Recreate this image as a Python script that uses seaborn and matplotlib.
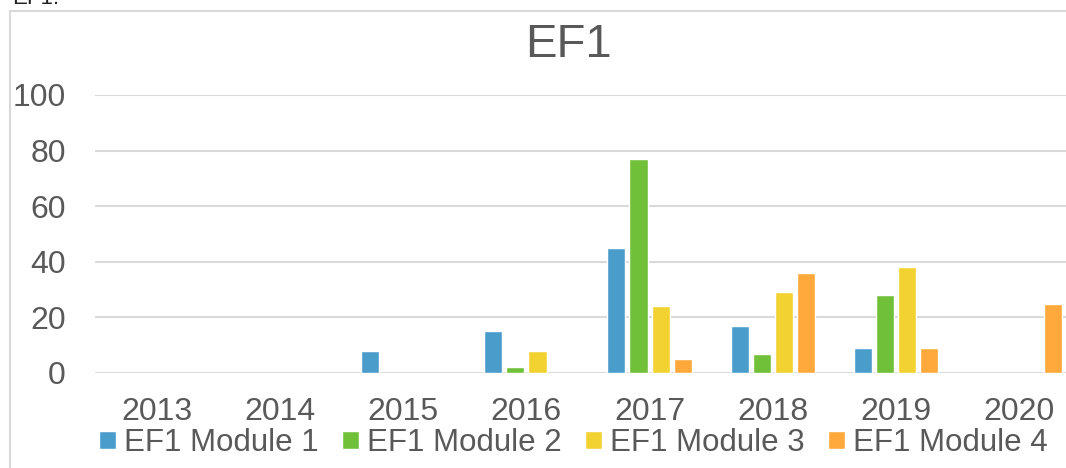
import numpy as np
import pandas as pd
import matplotlib
matplotlib.use("Agg")
import matplotlib.pyplot as plt
import seaborn as sns
from matplotlib.patches import Rectangle

# chart data (NaN = no bar)
years = ["2013", "2014", "2015", "2016", "2017", "2018", "2019", "2020"]
module_1 = [np.nan, np.nan, 8, 15, 45, 17, 9, np.nan]
module_2 = [np.nan, np.nan, np.nan, 2, 77, 7, 28, np.nan]
module_3 = [np.nan, np.nan, np.nan, 8, 24, 29, 38, np.nan]
module_4 = [np.nan, np.nan, np.nan, np.nan, 5, 36, 9, 25]
series_names = ["EF1 Module 1", "EF1 Module 2", "EF1 Module 3", "EF1 Module 4"]
colors = ["#4A9CCB", "#70C03A", "#F2D230", "#FFA83C"]

rows = []
for name, vals in zip(series_names, [module_1, module_2, module_3, module_4]):
    for y, v in zip(years, vals):
        rows.append({"year": y, "series": name, "value": v})
df = pd.DataFrame(rows).dropna()

sns.set_style("white")
plt.rcParams["font.family"] = ["Liberation Sans", "DejaVu Sans"]
text_color = "#595959"

fig = plt.figure(figsize=(10.66, 4.68), dpi=100)
ax = fig.add_axes([95 / 1066, 95 / 468, 986 / 1066, 278 / 468])

sns.barplot(data=df, x="year", y="value", hue="series", order=years,
            hue_order=series_names, palette=colors, saturation=1,
            width=0.72, gap=0.18, edgecolor="white", linewidth=1,
            ax=ax, legend=True)

ax.set_ylim(0, 100)
ax.set_xlim(-0.5, len(years) - 0.5)
ax.set_yticks(range(0, 101, 20))
ax.yaxis.grid(True, color="#D9D9D9", linewidth=1.5)
ax.set_axisbelow(True)
for s in ax.spines.values():
    s.set_visible(False)
ax.tick_params(axis="both", length=0, labelsize=23, labelcolor=text_color)
ax.tick_params(axis="y", pad=21)
ax.tick_params(axis="x", pad=17)
ax.set_xlabel("")
ax.set_ylabel("")

handles, labels = ax.get_legend_handles_labels()
ax.get_legend().remove()
fig.legend(handles, labels, loc="center", bbox_to_anchor=(573 / 1066, 1 - 443 / 468),
           ncol=4, frameon=False, fontsize=22.5, labelcolor=text_color,
           handlelength=0.55, handleheight=0.55, handletextpad=0.25,
           columnspacing=0.75, borderpad=0, borderaxespad=0)

fig.text(568 / 1066, 1 - 45 / 468, "EF1", ha="center", va="center",
         fontsize=34, color=text_color)

# chart frame and the cut-off caption above it
fig.patches.append(Rectangle((10 / 1066, -0.1), 1.2, 1.1 - 11 / 468,
                             transform=fig.transFigure, fill=False,
                             edgecolor="#D9D9D9", linewidth=1.5))
fig.text(12 / 1066, 1 - 4 / 468, "EF1:", ha="left", va="baseline",
         fontsize=16, color="#222222")

fig.savefig("out.png", dpi=100)
